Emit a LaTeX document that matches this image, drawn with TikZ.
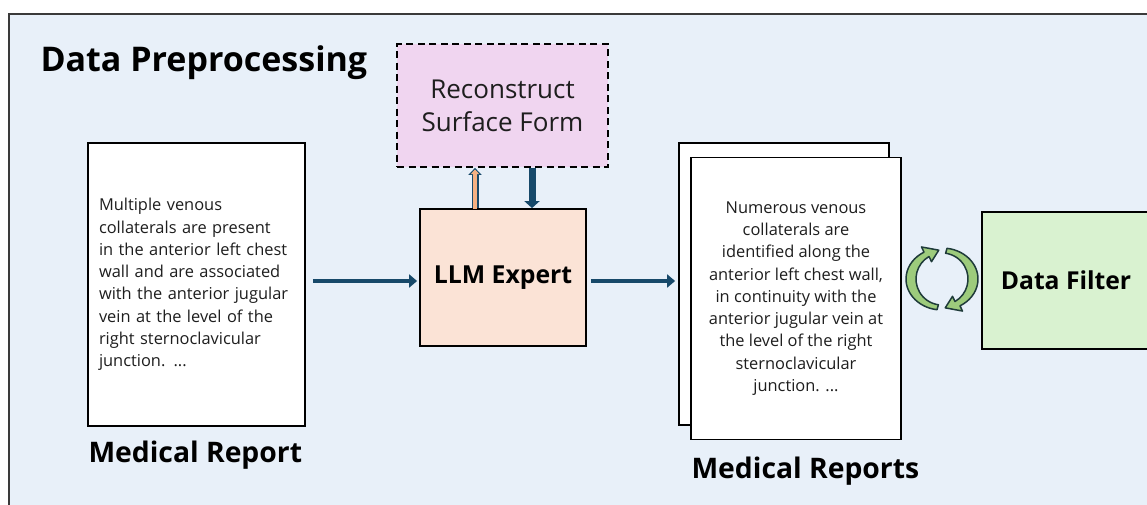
\documentclass[tikz,border=0pt]{standalone}
\usepackage{fontspec}
\setmainfont{Open Sans}
\usetikzlibrary{arrows.meta}

\definecolor{panelbg}{HTML}{E8F0F9}
\definecolor{panelline}{HTML}{3A3A3A}
\definecolor{flowblue}{HTML}{17496A}
\definecolor{llmfill}{HTML}{FBE3D6}
\definecolor{recfill}{HTML}{F0D5F0}
\definecolor{filterfill}{HTML}{D9F2D0}
\definecolor{upfill}{HTML}{F4B183}
\definecolor{cycfill}{HTML}{9DCB7C}
\definecolor{cycline}{HTML}{1F3B3A}
\definecolor{bodytext}{HTML}{1E1E1E}

\tikzset{
  box/.style={draw=black, line width=1.8pt, inner sep=0pt},
  docpage/.style={box, fill=white, minimum width=#1},
  bodyfont/.style={font=\fontsize{16.4}{22.3}\selectfont, text=bodytext},
  label/.style={font=\bfseries\fontsize{28.3}{32}\selectfont, text=black},
  flow/.style={draw=flowblue, line width=4.5pt,
    -{Triangle[width=13pt,length=8pt]}},
}

\begin{document}
\begin{tikzpicture}[x=1pt,y=-1pt]
\useasboundingbox (0,0) rectangle (1147,504);
\begin{scope}
\clip (0,0) rectangle (1147,504);

% panel
\draw[fill=panelbg, draw=panelline, line width=1.8pt] (9,14) rectangle (1170,530);

\node[anchor=base west, font=\bfseries\fontsize{34}{40}\selectfont] (title)
  at (37,71.5) {Data Preprocessing};

% reconstruct step
\node[box, dashed, dash pattern=on 7pt off 4.5pt, fill=recfill,
      minimum width=211pt, minimum height=123pt, align=center,
      font=\fontsize{26}{33}\selectfont, text=bodytext] (rec)
  at (502.5,105.5) {Reconstruct\\Surface Form};

% LLM expert
\node[box, fill=llmfill, minimum width=166pt, minimum height=137pt,
      font=\bfseries\fontsize{24.8}{28}\selectfont] (llm)
  at (503,277.5) {LLM Expert};

% input report
\node[docpage=217pt, minimum height=283pt, bodyfont, text width=195pt,
      inner xsep=11pt, align=left] (doc) at (196.5,284.5)
  {Multiple venous\\collaterals are present\\in the anterior left chest\\wall and are associated\\with the anterior jugular\\vein at the level of the\\right sternoclavicular\\junction. ...};
\node[label, anchor=base west] (doclabel) at (85,462) {Medical Report};

% output reports
\node[docpage=210pt, minimum height=282pt] (back) at (784,284) {};
\node[docpage=210pt, minimum height=282pt, bodyfont, align=center] (front)
  at (796,298.5)
  {Numerous venous\\collaterals are\\identified along the\\anterior left chest wall,\\in continuity with the\\anterior jugular vein at\\the level of the right\\sternoclavicular\\junction. ...};
\node[label, anchor=base west] (outlabel) at (688,478) {Medical Reports};

% data filter
\node[box, fill=filterfill, minimum width=168pt, minimum height=137pt,
      font=\bfseries\fontsize{24.7}{28}\selectfont] (filter)
  at (1066,280.5) {Data Filter};

% main flow
\coordinate (lin) at ([yshift=-3.5pt]llm.west);
\coordinate (lout) at ([yshift=-3.5pt]llm.east);
\draw[flow, shorten <=7pt, shorten >=2pt] (doc.east |- lin) -- (lin);
\draw[flow, shorten <=4pt, shorten >=3pt] (lout) -- (back.west |- lout);

% exchange with the reconstruct step
\coordinate (upfoot) at ([xshift=-28pt]llm.north);
\coordinate (downfoot) at ([xshift=29pt]llm.north);
\draw[draw=flowblue, line width=7pt, -{Triangle[width=13pt,length=7pt]}]
  (upfoot) -- (upfoot |- rec.south);
\draw[draw=upfill, line width=3.6pt, shorten >=1.6pt,
      -{Triangle[width=8pt,length=4.5pt]}]
  ([yshift=-1pt]upfoot) -- (upfoot |- rec.south);
\draw[draw=flowblue, line width=7pt, -{Triangle[width=15pt,length=7pt]}]
  (downfoot |- rec.south) -- (downfoot);

% refinement cycle icon
\begin{scope}[shift={(942,279)}]
  \foreach \r in {0,180}{
    \begin{scope}[rotate=\r]
      \filldraw[fill=cycfill, draw=cycline, line width=1.5pt, line join=round]
        (262:36pt and 31pt)
        arc[start angle=262, end angle=120, x radius=36pt, y radius=31pt]
        -- (120:41pt and 37pt) -- (96:31pt and 29pt) -- (120:21pt and 20pt)
        -- (120:26pt and 26pt)
        arc[start angle=120, end angle=262, x radius=26pt, y radius=26pt]
        -- cycle;
    \end{scope}
  }
\end{scope}
\end{scope}
\end{tikzpicture}
\end{document}
